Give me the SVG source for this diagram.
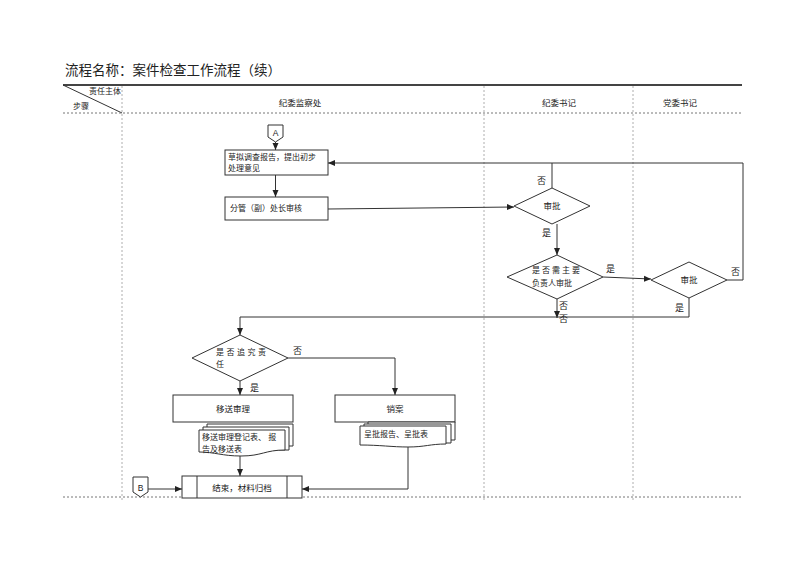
<svg xmlns="http://www.w3.org/2000/svg" width="800" height="566" viewBox="0 0 800 566">
<style>
text{font-family:"Liberation Sans","Noto Sans CJK SC",sans-serif;fill:#222;}
.t{font-size:8px;}
.tm{font-size:8.5px;text-anchor:middle;}
.lbl{font-size:9px;}
.title{font-size:13.5px;}
.shape{fill:#fff;stroke:#333;stroke-width:1;}
.ln{fill:none;stroke:#333;stroke-width:1;}
.dash{fill:none;stroke:#777;stroke-width:1;stroke-dasharray:2,2;}
.vdash{fill:none;stroke:#999;stroke-width:0.8;stroke-dasharray:2,2;}
</style>
<defs>
<marker id="ar" markerWidth="8" markerHeight="8" refX="7" refY="4" orient="auto" markerUnits="userSpaceOnUse">
<path d="M0,1 L7,4 L0,7 Z" fill="#222"/>
</marker>
</defs>
<rect width="800" height="566" fill="#fff"/>
<text class="title" x="65" y="75">流程名称：案件检查工作流程（续）</text>

<g id="header">
<line x1="63" y1="85" x2="742" y2="85" stroke="#444" stroke-width="2"/>
<line x1="63" y1="85" x2="122" y2="113" stroke="#333" stroke-width="1"/>
<text class="t" x="89" y="94">责任主体</text>
<text class="t" x="73" y="109">步骤</text>
<line class="dash" x1="63" y1="113" x2="742" y2="113"/>
<line class="dash" x1="63" y1="497" x2="742" y2="497"/>
<line class="vdash" x1="122" y1="86" x2="122" y2="502"/>
<line class="vdash" x1="484" y1="86" x2="484" y2="502"/>
<line class="vdash" x1="633" y1="86" x2="633" y2="502"/>
<text class="tm" x="300" y="106">纪委监察处</text>
<text class="tm" x="559" y="106">纪委书记</text>
<text class="tm" x="680" y="106">党委书记</text>
</g>

<g id="connectors">
<line class="ln" x1="275.5" y1="142" x2="275.5" y2="150" marker-end="url(#ar)"/>
<line class="ln" x1="275.5" y1="175" x2="275.5" y2="197" marker-end="url(#ar)"/>
<line class="ln" x1="328" y1="209" x2="514" y2="207" marker-end="url(#ar)"/>
<polyline class="ln" points="552,188 552,163"/>
<polyline class="ln" points="727,280 743,280 743,163 328,163" marker-end="url(#ar)"/>
<line class="ln" x1="557" y1="224" x2="557" y2="255" marker-end="url(#ar)"/>
<line class="ln" x1="603" y1="277" x2="651" y2="279" marker-end="url(#ar)"/>
<line class="ln" x1="557" y1="299" x2="557" y2="318" marker-end="url(#ar)"/>
<polyline class="ln" points="689,298 689,317 240,317 240,335" marker-end="url(#ar)"/>
<polyline class="ln" points="288,358 395,358 395,395" marker-end="url(#ar)"/>
<line class="ln" x1="240" y1="381" x2="240" y2="395" marker-end="url(#ar)"/>
<line class="ln" x1="240" y1="456" x2="240" y2="476" marker-end="url(#ar)"/>
<polyline class="ln" points="408,447 408,489 302,489" marker-end="url(#ar)"/>
<line class="ln" x1="148" y1="489" x2="182" y2="489" marker-end="url(#ar)"/>
<text class="lbl" x="537" y="184">否</text>
<text class="lbl" x="542" y="236">是</text>
<text class="lbl" x="606" y="272">是</text>
<text class="lbl" x="731" y="275">否</text>
<text class="lbl" x="675" y="311">是</text>
<text class="lbl" x="559" y="309">否</text>
<text class="lbl" x="559" y="322">否</text>
<text class="lbl" x="293" y="354">否</text>
<text class="lbl" x="250" y="391">是</text>
</g>

<g id="nodeA">
<polygon class="shape" points="268,125 283,125 283,137 275.5,142 268,137"/>
<text class="tm" x="275.5" y="136">A</text>
</g>

<g id="draft">
<rect class="shape" x="225" y="150" width="103" height="25"/>
<text class="t" x="228" y="160">草拟调查报告，提出初步</text>
<text class="t" x="228" y="171">处理意见</text>
</g>

<g id="review">
<rect class="shape" x="225" y="197" width="103" height="23"/>
<text class="t" x="230" y="211">分管（副）处长审核</text>
</g>

<g id="approve1">
<polygon class="shape" points="514,206 552,188 590,206 552,224"/>
<text class="tm" x="552" y="209">审批</text>
</g>

<g id="needMain">
<polygon class="shape" points="507,277 557,255 603,277 557,299"/>
<text class="t" x="532" y="273" letter-spacing="2">是否需主要</text>
<text class="t" x="532" y="286">负责人审批</text>
</g>

<g id="approve2">
<polygon class="shape" points="651,280 689,262 727,280 689,298"/>
<text class="tm" x="689" y="283">审批</text>
</g>

<g id="pursue">
<polygon class="shape" points="192,358 240,335 288,358 240,381"/>
<text class="t" x="216" y="355" letter-spacing="2.5">是否追究责</text>
<text class="t" x="216" y="367">任</text>
</g>

<g id="transfer">
<rect class="shape" x="173" y="395" width="120" height="27"/>
<text class="tm" x="233" y="412">移送审理</text>
<path class="shape" d="M207,424 H293 V446 H207 Z"/>
<path class="shape" d="M203,427 H289 V450 H203 Z"/>
<path class="shape" d="M199,430 H285 V450 C265,450 262,456 241,456 C222,456 215,452 199,452 Z"/>
<text class="t" x="202" y="440">移送审理登记表、 报</text>
<text class="t" x="202" y="452">告及移送表</text>
</g>

<g id="close">
<rect class="shape" x="335" y="395" width="120" height="27"/>
<text class="tm" x="395" y="412">销案</text>
<path class="shape" d="M368,422 H455 V440 H368 Z"/>
<path class="shape" d="M364,424 H451 V443 H364 Z"/>
<path class="shape" d="M360,426 H446 V444 C430,444 425,447 408,447 C392,447 380,445 360,445 Z"/>
<text class="t" x="364" y="437">呈批报告、呈批表</text>
</g>

<g id="nodeB">
<polygon class="shape" points="133,477 148,477 148,492 140.5,497 133,492"/>
<text class="tm" x="140.5" y="491">B</text>
</g>

<g id="end">
<rect class="shape" x="182" y="476" width="120" height="22"/>
<line class="ln" x1="197" y1="476" x2="197" y2="498"/>
<line class="ln" x1="287" y1="476" x2="287" y2="498"/>
<text class="tm" x="242" y="491">结束，材料归档</text>
</g>
</svg>
